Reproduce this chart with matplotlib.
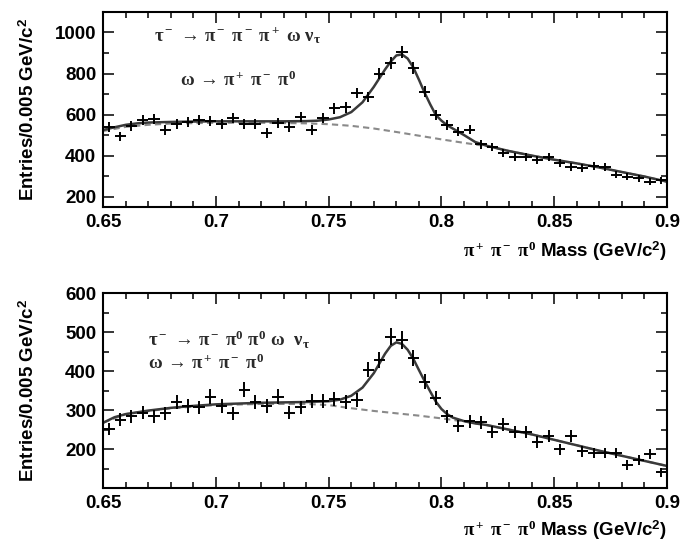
import numpy as np
import matplotlib
matplotlib.use('Agg')
from matplotlib import pyplot as plt
from matplotlib.ticker import MultipleLocator, FuncFormatter

plt.rcParams['font.family'] = ['Liberation Sans', 'DejaVu Sans']
plt.rcParams['font.weight'] = 'bold'
plt.rcParams['mathtext.fontset'] = 'custom'
plt.rcParams['mathtext.rm'] = 'Liberation Serif'
plt.rcParams['mathtext.it'] = 'Liberation Serif:italic'
plt.rcParams['mathtext.bf'] = 'Liberation Sans:bold'
plt.rcParams['mathtext.fallback'] = 'stix'

# bin centres, 5 MeV bins from 0.65 to 0.90 GeV
mass = np.round(np.arange(0.6525, 0.9, 0.005), 4)

# tau -> pi- pi- pi+ omega nu, entries per bin
counts_3prong = [540, 495, 545, 575, 580, 525, 555, 565, 575, 570,
                 555, 585, 555, 555, 510, 560, 540, 590, 525, 585,
                 630, 635, 705, 685, 800, 850, 905, 825, 712, 597,
                 549, 517, 526, 455, 442, 413, 395, 393, 380, 393,
                 365, 345, 340, 350, 345, 306, 296, 290, 272, 280]
# tau -> pi- pi0 pi0 omega nu, entries per bin
counts_1prong = [251, 276, 284, 294, 284, 292, 320, 310, 307, 335,
                 310, 292, 353, 322, 310, 335, 294, 307, 324, 324,
                 328, 322, 325, 404, 429, 488, 480, 434, 373, 332,
                 284, 259, 271, 269, 243, 264, 243, 243, 218, 233,
                 200, 233, 195, 190, 190, 190, 160, 172, 188, 141]

# fitted signal + background and background only
fit_x_3 = [0.65, 0.655, 0.66, 0.665, 0.67, 0.68, 0.69, 0.70, 0.71, 0.72,
           0.73, 0.74, 0.745, 0.75, 0.755, 0.76, 0.765, 0.77, 0.775, 0.7775,
           0.78, 0.7825, 0.785, 0.7875, 0.79, 0.7925, 0.795, 0.7975, 0.80, 0.8025,
           0.805, 0.81, 0.815, 0.82, 0.83, 0.84, 0.85, 0.86, 0.87, 0.88,
           0.89, 0.90]
fit_y_3 = [525, 538, 550, 557, 561, 564, 566, 567, 567, 567,
           567, 568, 570, 576, 587, 612, 660, 735, 820, 858,
           888, 893, 873, 830, 770, 707, 650, 598, 570, 548,
           532, 500, 466, 448, 422, 400, 380, 362, 342, 320,
           298, 273]
bkg_x_3 = [0.65, 0.66, 0.67, 0.68, 0.70, 0.72, 0.74, 0.75, 0.76, 0.77,
           0.78, 0.79, 0.80, 0.81, 0.82, 0.83, 0.84, 0.85, 0.86, 0.87,
           0.88, 0.89, 0.90]
bkg_y_3 = [520, 540, 550, 556, 560, 560, 557, 553, 545, 532,
           515, 497, 479, 462, 446, 422, 400, 380, 362, 342,
           320, 298, 273]

fit_x_1 = [0.65, 0.655, 0.66, 0.67, 0.68, 0.69, 0.70, 0.72, 0.74, 0.75,
           0.755, 0.76, 0.765, 0.77, 0.7725, 0.775, 0.7775, 0.78, 0.7825, 0.785,
           0.7875, 0.79, 0.7925, 0.795, 0.7975, 0.80, 0.8025, 0.805, 0.81, 0.815,
           0.82, 0.83, 0.84, 0.85, 0.86, 0.87, 0.88, 0.89, 0.90]
fit_y_1 = [268, 282, 290, 299, 306, 311, 315, 319, 321, 323,
           327, 337, 358, 395, 420, 445, 465, 474, 470, 455,
           432, 403, 375, 348, 322, 303, 290, 281, 272, 266,
           262, 250, 238, 224, 210, 196, 183, 170, 157]
bkg_x_1 = [0.65, 0.66, 0.68, 0.70, 0.72, 0.74, 0.75, 0.76, 0.77, 0.78,
           0.79, 0.80, 0.81, 0.82, 0.83, 0.84, 0.85, 0.86, 0.87, 0.88,
           0.89, 0.90]
bkg_y_1 = [268, 290, 305, 313, 316, 316, 313, 305, 298, 292,
           286, 279, 271, 262, 250, 238, 224, 210, 196, 183,
           170, 157]


def draw_panel(ax, counts, fit_x, fit_y, bkg_x, bkg_y, ylim, yticks, yminor):
    counts = np.array(counts, dtype=float)
    ax.plot(bkg_x, bkg_y, '--', color='#8a8a8a', lw=1.5, dashes=(3, 2), zorder=1)
    ax.plot(fit_x, fit_y, '-', color='#3a3a3a', lw=1.8, zorder=2)
    ax.errorbar(mass, counts, xerr=0.0025, yerr=np.sqrt(counts), fmt='none',
                ecolor='black', elinewidth=1.4, capsize=0, zorder=3)
    ax.set_xlim(0.65, 0.9)
    ax.set_ylim(*ylim)
    ax.set_yticks(yticks)
    ax.xaxis.set_major_locator(MultipleLocator(0.05))
    ax.xaxis.set_minor_locator(MultipleLocator(0.01))
    ax.yaxis.set_minor_locator(MultipleLocator(yminor))
    ax.xaxis.set_major_formatter(FuncFormatter(lambda v, p: '%g' % round(v, 2)))
    ax.tick_params(which='both', direction='in', top=True, right=True,
                   labelsize=13.5, width=1.1)
    ax.tick_params(which='major', length=8, pad=5)
    ax.tick_params(which='minor', length=4)
    for s in ax.spines.values():
        s.set_linewidth(1.5)
    ax.set_ylabel('Entries/0.005 GeV/c$^{\\mathbf{2}}$', fontsize=13.5, fontweight='bold')
    ax.yaxis.set_label_coords(-0.115, 0.5)
    ax.set_xlabel('$\\mathrm{\\pi^+\\ \\pi^-\\ \\pi^0}$ Mass (GeV/c$^{\\mathbf{2}}$)',
                  fontsize=13.5, fontweight='bold', ha='right')


fig = plt.figure(figsize=(6.84, 5.43), dpi=100)
ax1 = fig.add_axes([0.151, 0.619, 0.824, 0.359])
ax2 = fig.add_axes([0.151, 0.101, 0.824, 0.359])

draw_panel(ax1, counts_3prong, fit_x_3, fit_y_3, bkg_x_3, bkg_y_3,
           (150, 1100), [200, 400, 600, 800, 1000], 100)
ax1.xaxis.set_label_coords(1.0, -0.17)
ax1.text(0.239, 0.877, '$\\mathrm{\\tau^-\\, \\rightarrow\\, \\pi^-\\ \\pi^-\\ \\pi^+\\ \\omega\\ \\nu_\\tau}$',
         transform=ax1.transAxes, ha='center', va='center', fontsize=13.5, color='#2a2a2a')
ax1.text(0.239, 0.651, '$\\mathrm{\\omega\\, \\rightarrow\\, \\pi^+\\ \\pi^-\\ \\pi^0}$',
         transform=ax1.transAxes, ha='center', va='center', fontsize=13.5, color='#2a2a2a')

draw_panel(ax2, counts_1prong, fit_x_1, fit_y_1, bkg_x_1, bkg_y_1,
           (100, 600), [200, 300, 400, 500, 600], 50)
ax2.xaxis.set_label_coords(1.0, -0.155)
ax2.text(0.08, 0.759, '$\\mathrm{\\tau^-\\, \\rightarrow\\, \\pi^-\\ \\pi^0\\ \\pi^0\\ \\omega\\ \\ \\nu_\\tau}$',
         transform=ax2.transAxes, ha='left', va='center', fontsize=13.5, color='#2a2a2a')
ax2.text(0.08, 0.641, '$\\mathrm{\\omega\\, \\rightarrow\\, \\pi^+\\ \\pi^-\\ \\pi^0}$',
         transform=ax2.transAxes, ha='left', va='center', fontsize=13.5, color='#2a2a2a')

fig.savefig('out.png', dpi=100)
